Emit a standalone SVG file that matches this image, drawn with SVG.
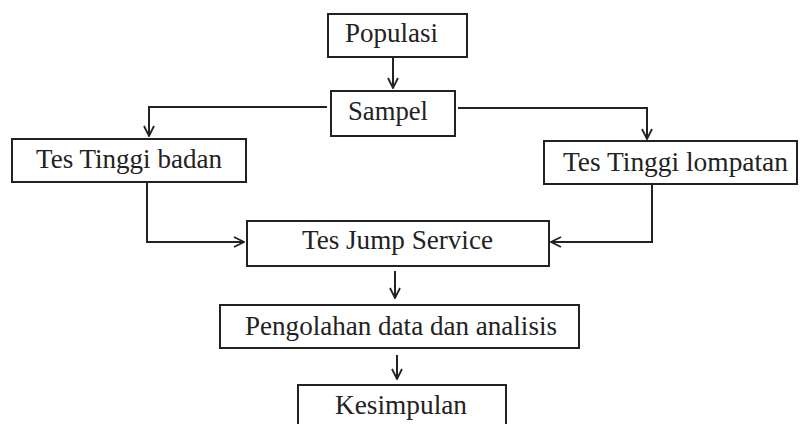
<svg xmlns="http://www.w3.org/2000/svg" width="800" height="424" viewBox="0 0 800 424">
<defs>
<style>
.box{fill:#fff;stroke:#222;stroke-width:2}
.lbl{font-family:'Liberation Serif','Times New Roman',serif;font-size:27px;fill:#222;text-anchor:middle}
.ln{fill:none;stroke:#222;stroke-width:2}
</style>
<marker id="ah" markerWidth="12" markerHeight="12" viewBox="0 0 12 12" refX="11" refY="6" orient="auto" markerUnits="userSpaceOnUse">
<path d="M1,1 L11,6 L1,11" fill="none" stroke="#222" stroke-width="1.8"/>
</marker>
</defs>
<rect width="800" height="424" fill="#fff"/>
<g id="connectors">
<line class="ln" x1="393" y1="58" x2="393" y2="88" marker-end="url(#ah)"/>
<polyline class="ln" points="327,107 149,107 149,136" marker-end="url(#ah)"/>
<polyline class="ln" points="458,108 647,108 647,139" marker-end="url(#ah)"/>
<polyline class="ln" points="147,183 147,242 244,242" marker-end="url(#ah)"/>
<polyline class="ln" points="652,185 652,242 551,242" marker-end="url(#ah)"/>
<line class="ln" x1="395" y1="271" x2="395" y2="298" marker-end="url(#ah)"/>
<line class="ln" x1="397" y1="355" x2="397" y2="379" marker-end="url(#ah)"/>
</g>
<g id="populasi">
<rect class="box" x="328" y="14" width="139" height="43"/>
<text class="lbl" x="391.5" y="42" textLength="93" lengthAdjust="spacingAndGlyphs">Populasi</text>
</g>
<g id="sampel">
<rect class="box" x="331" y="91" width="124" height="45"/>
<text class="lbl" x="388" y="120" textLength="80" lengthAdjust="spacingAndGlyphs">Sampel</text>
</g>
<g id="tinggi-badan">
<rect class="box" x="12" y="139" width="234" height="43"/>
<text class="lbl" x="129" y="168" textLength="186" lengthAdjust="spacingAndGlyphs">Tes Tinggi badan</text>
</g>
<g id="tinggi-lompatan">
<rect class="box" x="544" y="141" width="253" height="43"/>
<text class="lbl" x="675.5" y="171" textLength="225" lengthAdjust="spacingAndGlyphs">Tes Tinggi lompatan</text>
</g>
<g id="jump-service">
<rect class="box" x="247" y="221" width="302" height="45"/>
<text class="lbl" x="397.5" y="249" textLength="191" lengthAdjust="spacingAndGlyphs">Tes Jump Service</text>
</g>
<g id="pengolahan">
<rect class="box" x="220" y="305" width="359" height="43"/>
<text class="lbl" x="401" y="335" textLength="312" lengthAdjust="spacingAndGlyphs">Pengolahan data dan analisis</text>
</g>
<g id="kesimpulan">
<rect class="box" x="298" y="385" width="208" height="50"/>
<text class="lbl" x="401" y="414" textLength="132" lengthAdjust="spacingAndGlyphs">Kesimpulan</text>
</g>
</svg>
